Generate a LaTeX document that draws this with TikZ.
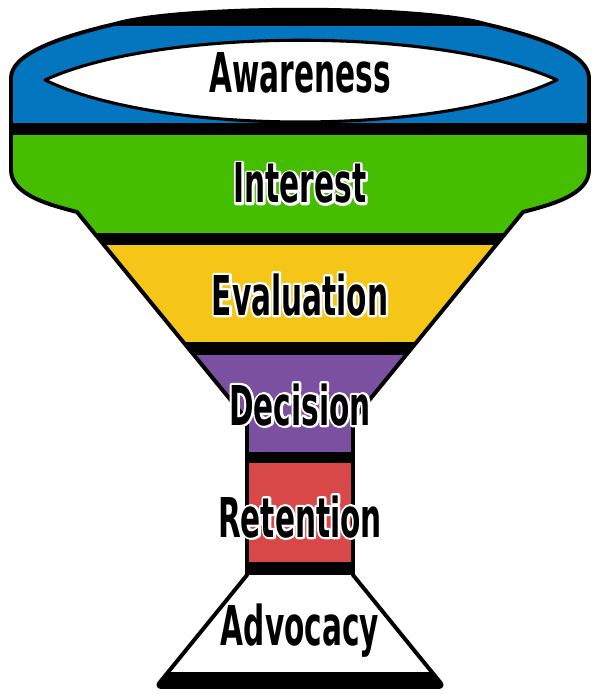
\documentclass[tikz,border=0pt]{standalone}
\usepackage{fontspec}
\newfontfamily\funnelfont[FakeStretch=0.6]{DejaVu Sans Condensed}
\usetikzlibrary{calc}

\definecolor{awareblue}{RGB}{4,117,191}
\definecolor{interestgreen}{RGB}{70,190,0}
\definecolor{evalyellow}{RGB}{245,198,24}
\definecolor{decisionpurple}{RGB}{124,80,160}
\definecolor{retentionred}{RGB}{216,72,72}

% white halo behind the stage names
\newcommand\halotext[1]{\rlap{\special{pdf:literal direct 1 Tr 3.2 w 1 j 1 1 1 RG}#1\special{pdf:literal direct 0 Tr}}#1}

\def\funnelpath{(115,24) .. controls (180,5) and (420,5) .. (485,24)
  .. controls (545,38) and (589,55) .. (589,78) -- (589,170)
  .. controls (589,195) and (550,205) .. (523,212)
  -- (353,420) -- (353,575)
  {[rounded corners=4pt] -- (444,687) -- (156,687)} -- (247,575)
  -- (247,420) -- (77,212)
  .. controls (50,205) and (11,195) .. (11,170) -- (11,78)
  .. controls (11,55) and (55,38) .. (115,24) -- cycle}

\begin{document}
\begin{tikzpicture}[
  x=0.025cm, y=-0.025cm,
  stage/.style={font=\funnelfont\bfseries\fontsize{39}{40}\selectfont, inner sep=0pt, anchor=base},
  rim/.style={draw=black, line width=2.8pt, line join=round},
]
\useasboundingbox (0,0) rectangle (600,694);

% === FUNNEL BANDS ===
\begin{scope}
  \clip \funnelpath;
  \fill[black] (0,0) rectangle (600,26);
  \fill[awareblue] (0,26) rectangle (600,123);
  \fill[black] (0,123) rectangle (600,135);
  \fill[interestgreen] (0,135) rectangle (600,233);
  \fill[black] (0,233) rectangle (600,245);
  \fill[evalyellow] (0,245) rectangle (600,342);
  \fill[black] (0,342) rectangle (600,355);
  \fill[decisionpurple] (0,355) rectangle (600,452);
  \fill[black] (0,452) rectangle (600,463);
  \fill[retentionred] (0,463) rectangle (600,562);
  \fill[black] (0,562) rectangle (600,575);
  \fill[white] (0,575) rectangle (600,672);
  \fill[black] (0,672) rectangle (600,694);
\end{scope}
\draw[rim] \funnelpath;

% === MOUTH ===
\draw[rim, fill=white, line width=2.2pt] (45,80) .. controls (160,27) and (440,27) .. (557,80)
  .. controls (440,136) and (160,136) .. cycle;

% === STAGE LABELS ===
\node[stage] (awareness) at (300,93) {Awareness};
\node[stage] (interest) at (300,203) {\halotext{Interest}};
\node[stage] (evaluation) at (300,315) {\halotext{Evaluation}};
\node[stage] (decision) at (300,425) {\halotext{Decision}};
\node[stage] (retention) at (300,537) {\halotext{Retention}};
\node[stage] (advocacy) at (300,645) {Advocacy};
\end{tikzpicture}
\end{document}
